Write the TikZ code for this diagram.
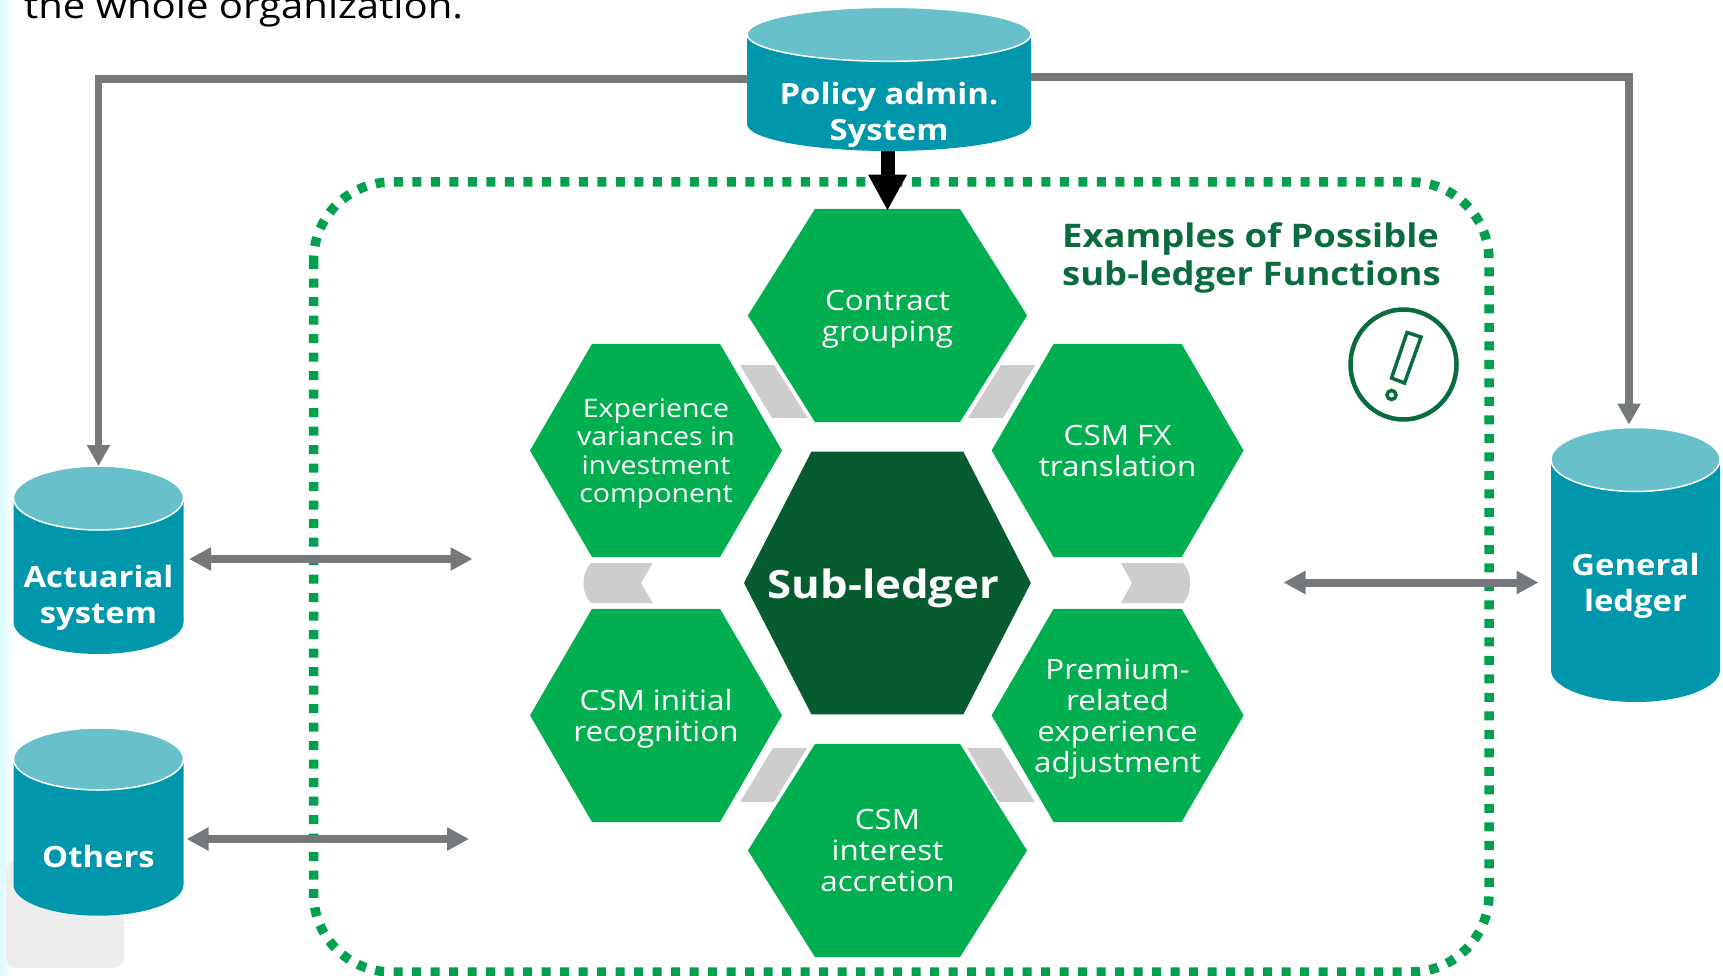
\documentclass[tikz,border=0pt]{standalone}
\usepackage{fontspec}
\setmainfont[FakeStretch=1.12]{Open Sans}
\usepackage{xcolor}
\usepackage{tikz}
\usetikzlibrary{arrows.meta,calc}

\definecolor{hexgreen}{HTML}{02AF50}
\definecolor{hexdark}{HTML}{065C30}
\definecolor{titlegreen}{HTML}{0A6B3D}
\definecolor{dotgreen}{HTML}{00A04F}
\definecolor{cylbody}{HTML}{0097AC}
\definecolor{cyltop}{HTML}{68C0CB}
\definecolor{linegray}{HTML}{76797C}
\definecolor{chevgray}{HTML}{CDCDCD}

\newcommand{\labeltop}{\rule{0pt}{1.23em}}
\newcommand{\labelfoot}{\rule[-.25em]{0pt}{.25em}}

\tikzset{
	hexlabel/.style={text=white,align=center,inner sep=0pt,yshift=-3.5pt,font=\fontsize{28}{31}\selectfont,
		execute at begin node=\labeltop,execute at end node=\labelfoot},
	hexsmall/.style={hexlabel,font=\fontsize{25.5}{28.5}\selectfont},
	cyllabel/.style={text=white,align=center,inner sep=0pt,yshift=-3.5pt,font=\bfseries\fontsize{29.3}{36}\selectfont,
		execute at begin node=\labeltop,execute at end node=\labelfoot},
	cylbox/.style={inner sep=0pt,outer sep=0pt},
	link/.style={linegray,line width=7.5pt,-{Triangle[length=21pt,width=22pt]}},
	twoway/.style={linegray,line width=8pt,{Triangle[length=22pt,width=22pt]}-{Triangle[length=22pt,width=22pt]}},
	chevron/.style={fill=chevgray}
}

% style, name, x, y, half width, half top edge, half height, label style, text
\newcommand{\hexcell}[9]{
	\fill[#1] (#3-#5,#4) -- (#3-#6,#4-#7) -- (#3+#6,#4-#7) -- (#3+#5,#4) -- (#3+#6,#4+#7) -- (#3-#6,#4+#7) -- cycle;
	\node[#8,minimum width=2*#5 pt,minimum height=2*#7 pt] (#2) at (#3,#4) {#9};
}

% name, x, top, ellipse y radius, x radius, bottom, text y, text
\newcommand{\cylcell}[8]{
	\fill[cylbody] (#2-#5,#3+#4) -- (#2-#5,#6-#4) arc[start angle=180,end angle=0,x radius=#5,y radius=#4] -- (#2+#5,#3+#4) -- cycle;
	\draw[white,line width=1.5pt,fill=cyltop] (#2,#3+#4) ellipse[x radius=#5,y radius=#4];
	\node[cylbox,minimum width=2*#5 pt,minimum height=#6-#3 pt] (#1) at (#2,#3/2+#6/2) {};
	\node[cyllabel] (#1text) at (#2,#7) {#8};
}

\begin{document}
\begin{tikzpicture}[x=1pt,y=-1pt]
	\useasboundingbox (0,0) rectangle (1723,976);
	\clip (0,0) rectangle (1723,976);
	\fill[white] (0,0) rectangle (1723,976);
	\shade[left color=blue!12!cyan!14,right color=white] (0,0) rectangle (14,976);
	\fill[gray!14,rounded corners=10pt] (6,860) rectangle (124,968);

	\node[anchor=base west,inner sep=0pt,font=\fontsize{35.8}{40}\selectfont] (topnote) at (24,19) {the whole organization.};

	\draw[dotgreen,line width=9.5pt,dash pattern=on 9pt off 9.5pt,rounded corners=78pt] (313.6,182) rectangle (1489,972);

	\cylcell{policy}{889}{7.3}{27}{142}{151}{111.5}{Policy admin.\\System}
	\cylcell{actuarial}{98.5}{466}{32}{85}{654}{595}{Actuarial\\system}
	\cylcell{others}{98.5}{728}{31}{85}{915.7}{850}{Others}
	\cylcell{general}{1635.5}{427.5}{32}{84.5}{702}{582.5}{General\\ledger}

	\hexcell{hexgreen}{contract}{887.5}{315.5}{139.6}{72.5}{106.6}{hexlabel}{Contract\\grouping}
	\hexcell{hexgreen}{variances}{656}{450.5}{126}{64}{106.6}{hexsmall}{Experience\\variances in\\investment\\component}
	\hexcell{hexgreen}{translation}{1117.6}{450.5}{126}{64}{106.6}{hexlabel}{CSM FX\\translation}
	\hexcell{hexgreen}{recognition}{656}{715.4}{126}{64}{106.6}{hexlabel}{CSM initial\\recognition}
	\hexcell{hexgreen}{premium}{1117.6}{715.4}{126}{64}{106.6}{hexlabel}{Premium-\\related\\experience\\adjustment}
	\hexcell{hexgreen}{accretion}{887.5}{850.5}{139.6}{72.5}{106.6}{hexlabel}{CSM\\interest\\accretion}
	\hexcell{hexdark}{subledger}{887.4}{583}{143.4}{76}{131.3}{hexlabel,font=\bfseries\fontsize{39}{42}\selectfont,xshift=-4pt,yshift=7.5pt}{Sub-ledger}

	\fill[chevron] (740,365) -- (774,365) -- (808,418) -- (772,418) -- cycle;
	\fill[chevron] (1001,365) -- (1035,365) -- (1003,418) -- (968,418) -- cycle;
	\fill[chevron] (773,748) -- (807,748) -- (774,802) -- (740,802) -- cycle;
	\fill[chevron] (967,748) -- (1001,748) -- (1035,802) -- (999,802) -- cycle;
	\fill[chevron] (652.7,563) -- (591,563) .. controls (585,570) and (583.5,576) .. (583.5,583) .. controls (583.5,590) and (585,596) .. (591,603) -- (652.7,603) -- (641,583) -- cycle;
	\fill[chevron] (1121,563) -- (1183,563) .. controls (1189,570) and (1190,576) .. (1190,583) .. controls (1190,590) and (1189,596) .. (1183,603) -- (1121,603) -- (1132,583) -- cycle;

	\node[anchor=base west,inner sep=0pt,text=titlegreen,align=left,font=\bfseries\fontsize{32.5}{37.5}\selectfont] (examples) at (1062,285) {Examples of Possible\\sub-ledger Functions};

	\draw[titlegreen,line width=4.5pt] (1403.5,364.5) ellipse[x radius=53,y radius=55];
	\draw[titlegreen,line width=3.5pt,line join=miter] (1407,332.5) -- (1421,337) -- (1404.5,383) -- (1391.5,378) -- cycle;
	\draw[titlegreen,line width=3.5pt] (1391.5,395) circle (4.5);

	\coordinate (leftcorner) at (99,79);
	\coordinate (rightcorner) at (1629,77);
	\coordinate (generalentry) at (1629,424.6);
	\coordinate (actuarialend) at (472.5,559);
	\coordinate (othersend) at (469,839);
	\coordinate (generalend) at (1283.5,582.5);

	\draw[link] (policy.west |- leftcorner) -| (actuarial.north);
	\draw[link] (policy.east |- rightcorner) -- ++(2,0) -| (generalentry);
	\draw[twoway] ([xshift=5.5pt]actuarial.east |- actuarialend) -- (actuarialend);
	\draw[twoway] ([xshift=3pt]others.east |- othersend) -- (othersend);
	\draw[twoway] (generalend) -- ([xshift=-12.5pt]general.west |- generalend);
	\draw[black,line width=14pt,shorten >=1.5pt,-{Triangle[length=36pt,width=36pt]}] (contract.north |- policy.south) -- (contract.north);
\end{tikzpicture}
\end{document}
